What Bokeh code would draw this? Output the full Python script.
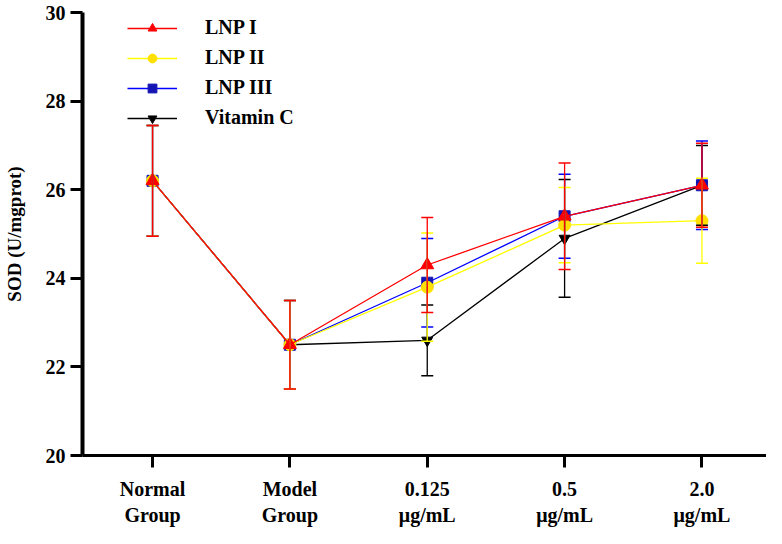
from bokeh.plotting import figure
from bokeh.models import ColumnDataSource, Whisker, TeeHead, FixedTicker, Legend, LegendItem, Range1d
from bokeh.embed import file_html
from bokeh.resources import INLINE

# ---- data ----
categories = ["Normal\nGroup", "Model\nGroup", "0.125\nμg/mL", "0.5\nμg/mL", "2.0\nμg/mL"]
y_ticks = [20, 22, 24, 26, 28, 30]

lnp1 = [26.2, 22.5, 24.3, 25.4, 26.1]
lnp1_sd = [1.25, 1.0, 1.07, 1.2, 0.95]
lnp2 = [26.2, 22.5, 23.8, 25.2, 25.3]
lnp2_sd = [1.25, 1.0, 1.22, 0.85, 0.96]
lnp3 = [26.2, 22.5, 23.9, 25.4, 26.1]
lnp3_sd = [1.25, 1.0, 1.0, 0.95, 1.0]
vitc = [26.2, 22.5, 22.6, 24.9, 26.1]
vitc_sd = [1.25, 1.0, 0.8, 1.33, 0.9]

series_names = ["LNP I", "LNP II", "LNP III", "Vitamin C"]

FONT = "Liberation Serif"

p = figure(width=766, height=528, output_backend="svg", toolbar_location=None,
           x_range=Range1d(-0.51, 4.47), y_range=Range1d(20, 30),
           min_border_left=82, min_border_right=0, min_border_top=12, min_border_bottom=70)
p.outline_line_color = None
p.grid.visible = False
p.background_fill_color = "white"

x = list(range(len(categories)))

# axes
p.xaxis.ticker = FixedTicker(ticks=x)
p.xaxis.major_label_overrides = {i: c for i, c in enumerate(categories)}
p.yaxis.ticker = FixedTicker(ticks=y_ticks)
for ax in (p.xaxis, p.yaxis):
    ax.axis_line_color = "black"
    ax.major_tick_line_color = "black"
    ax.major_tick_line_width = 3
    ax.major_tick_out = 12
    ax.major_tick_in = 0
    ax.minor_tick_line_color = None
    ax.major_label_text_font = FONT
    ax.major_label_text_font_style = "bold"
    ax.major_label_text_font_size = "20px"
    ax.major_label_text_color = "black"
p.yaxis.axis_line_width = 4
p.xaxis.axis_line_width = 3
p.yaxis.major_label_standoff = 5
p.xaxis.major_label_standoff = 10
p.yaxis.axis_label = "SOD (U/mgprot)"
p.yaxis.axis_label_text_font = FONT
p.yaxis.axis_label_text_font_style = "bold"
p.yaxis.axis_label_text_font_size = "19px"
p.yaxis.axis_label_text_color = "black"
p.yaxis.axis_label_standoff = 18

specs = [
    # name, y, sd, line color, marker, marker color, size
    (series_names[3], vitc, vitc_sd, "#000000", "inverted_triangle", "#000000", 11),
    (series_names[2], lnp3, lnp3_sd, "#0000ff", "square", "#1414b4", 11),
    (series_names[1], lnp2, lnp2_sd, "#ffff00", "circle", "#ffe000", 12),
    (series_names[0], lnp1, lnp1_sd, "#ff0000", "triangle", "#ff0000", 13),
]

items = {}
for name, ys, sd, lc, mk, mc, sz in specs:
    src = ColumnDataSource(dict(x=x, y=ys,
                                lo=[v - s for v, s in zip(ys, sd)],
                                hi=[v + s for v, s in zip(ys, sd)]))
    w = Whisker(source=src, base="x", lower="lo", upper="hi", line_color=lc, line_width=1.3,
                level="glyph",
                upper_head=TeeHead(size=12, line_color=lc, line_width=1.5),
                lower_head=TeeHead(size=12, line_color=lc, line_width=1.5))
    p.add_layout(w)
    r_line = p.line("x", "y", source=src, line_color=lc, line_width=1.3)
    r_mark = p.scatter("x", "y", source=src, marker=mk, size=sz, fill_color=mc, line_color=mc)
    items[name] = [r_line, r_mark]

legend = Legend(items=[LegendItem(label=n, renderers=items[n]) for n in series_names],
                location=(45, 326), orientation="vertical",
                glyph_width=50, glyph_height=22, label_height=22, spacing=7,
                label_standoff=28, padding=0, margin=0,
                border_line_color=None, background_fill_alpha=0,
                label_text_font=FONT, label_text_font_style="bold",
                label_text_font_size="20px", label_text_color="black")
p.add_layout(legend)

open("out.html", "w").write(file_html(p, INLINE))
